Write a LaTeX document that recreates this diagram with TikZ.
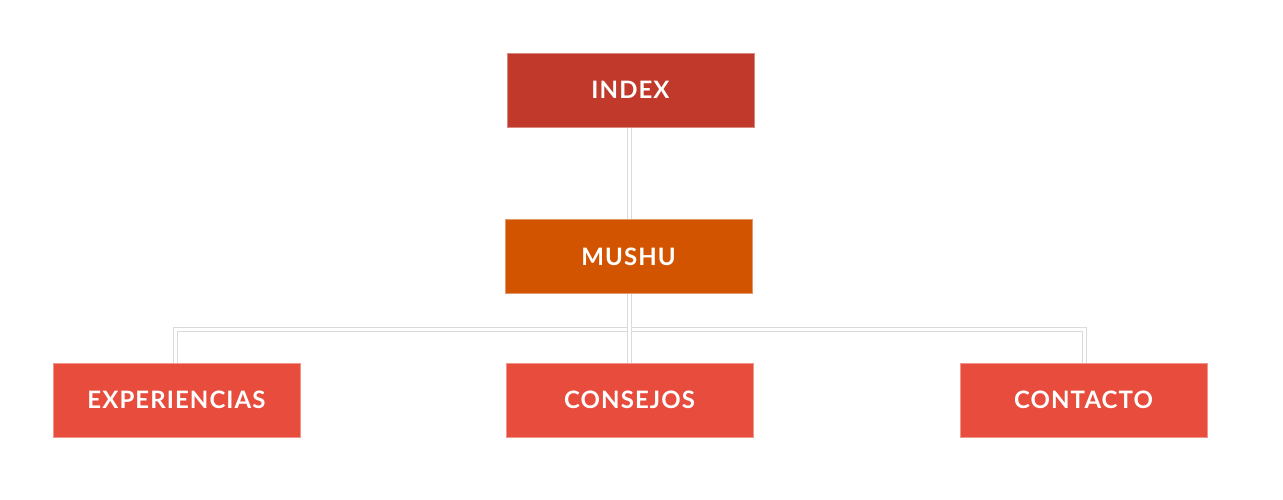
\documentclass[tikz,border=0pt]{standalone}
\usepackage{fontspec}
\setmainfont{Lato}[LetterSpace=4.5]
\usetikzlibrary{backgrounds}
\definecolor{cIndex}{HTML}{C0392B}
\definecolor{cMushu}{HTML}{D35400}
\definecolor{cLeaf}{HTML}{E74C3C}
\definecolor{cLine}{HTML}{DADADA}
\begin{document}
\begin{tikzpicture}[x=0.75pt,y=-0.75pt,
  box/.style={minimum width=185.25pt,minimum height=55.5pt,inner sep=0pt,
    text=white,font=\fontsize{18}{20}\selectfont\bfseries,line width=0.6pt},
  conn/.style={draw=cLine,line width=0.75pt,double=white,double distance=2.25pt}]
\useasboundingbox (0,0) rectangle (1283,500);
\node[box,fill=cIndex,draw=cIndex!60!white] (index) at (630.5,90) {INDEX};
\node[box,fill=cMushu,draw=cMushu!60!white] (mushu) at (628.5,256.5) {MUSHU};
\node[box,fill=cLeaf,draw=cLeaf!60!white] (exp) at (176.5,400) {EXPERIENCIAS};
\node[box,fill=cLeaf,draw=cLeaf!60!white] (cons) at (629.5,400) {CONSEJOS};
\node[box,fill=cLeaf,draw=cLeaf!60!white] (cont) at (1083.5,400) {CONTACTO};
\coordinate (bus) at (629.5,329);
\begin{scope}[on background layer]
\draw[conn] (exp.north -| 175,0) |- (bus) -| (cont.north -| 1084,0);
\draw[conn] (index.south -| 629.5,0) -- (cons.north);
\end{scope}
\end{tikzpicture}
\end{document}
